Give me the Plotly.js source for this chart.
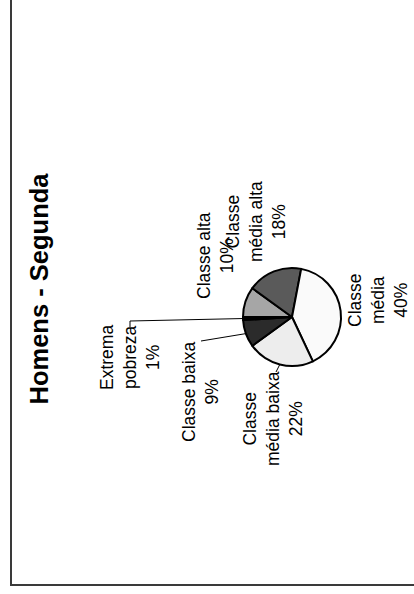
<!DOCTYPE html>
<html>
<head>
<meta charset="utf-8">
<script src="https://cdn.plot.ly/plotly-3.0.1.min.js"></script>
<style>
  html, body { margin: 0; padding: 0; background: #ffffff; overflow: hidden; }
  #wrap { position: absolute; left: 0; top: 0; width: 414px; height: 594px; overflow: hidden; }
  /* the chart is laid out landscape and turned a quarter turn counter-clockwise */
  #chart { position: absolute; left: 0; top: 0; width: 594px; height: 414px;
           transform-origin: 0 0; transform: translate(0px, 594px) rotate(-90deg); }
</style>
</head>
<body>
<div id="wrap"><div id="chart"></div></div>
<script>
// Distribution of men by social class (percent)
const categories = ['Classe alta', 'Classe média alta', 'Classe média', 'Classe média baixa', 'Classe baixa', 'Extrema pobreza'];
const shares = [10, 18, 40, 22, 9, 1];
const labelNames = ['Classe alta', 'Classe<br>média alta', 'Classe<br>média', 'Classe<br>média baixa', 'Classe baixa', 'Extrema<br>pobreza'];
const sliceColors = ['#a6a6a6', '#5a5a5a', '#fafafa', '#ededed', '#2b2b2b', '#000000'];
const chartTitle = 'Homens - Segunda';

// layout geometry, in pixels of the landscape canvas
const W = 594, H = 414;
const pieCx = 277, pieCy = 292, pieR = 49;
const labelPos = [[338, 215], [372, 256], [294, 378], [175, 273], [202, 201], [236, 130]];
const leaderPts = [null, null, null, [[222, 276]], [[253, 201]], [[273, 130], [267, 130]]];

const px = u => u / W;
const py = v => 1 - v / H;

const FONT = 'Liberation Sans, Arial, Helvetica, sans-serif';

// label annotations
const total = shares.reduce((a, b) => a + b, 0);
const annotations = categories.map((c, i) => ({
  xref: 'paper', yref: 'paper',
  x: px(labelPos[i][0]), y: py(labelPos[i][1]),
  xanchor: 'center', yanchor: 'middle',
  text: labelNames[i] + '<br>' + shares[i] + '%',
  showarrow: false, align: 'center',
  font: { family: FONT, size: 17.5, color: '#000000' }
}));

// leader lines: start at the rim in the middle of each slice (clockwise from 12 o'clock)
const shapes = [];
let acc = 0;
shares.forEach((s, i) => {
  const mid = (acc + s / 2) / total * 2 * Math.PI;
  acc += s;
  if (!leaderPts[i]) return;
  let prev = [pieCx + pieR * Math.sin(mid), pieCy - pieR * Math.cos(mid)];
  leaderPts[i].forEach(p => {
    shapes.push({ type: 'line', xref: 'paper', yref: 'paper',
      x0: px(prev[0]), y0: py(prev[1]), x1: px(p[0]), y1: py(p[1]),
      line: { color: '#000000', width: 1 } });
    prev = p;
  });
});

// outer frame
shapes.push({ type: 'rect', xref: 'paper', yref: 'paper',
  x0: px(9), y0: py(11), x1: px(W + 20), y1: py(H + 20),
  line: { color: '#3a3a3a', width: 2 }, fillcolor: 'rgba(0,0,0,0)' });

const trace = {
  type: 'pie',
  labels: categories,
  values: shares,
  sort: false,
  direction: 'clockwise',
  rotation: 0,
  textinfo: 'none',
  hoverinfo: 'none',
  marker: { colors: sliceColors, line: { color: '#000000', width: 2 } },
  domain: { x: [px(pieCx - pieR), px(pieCx + pieR)], y: [py(pieCy + pieR), py(pieCy - pieR)] },
  showlegend: false
};

const layout = {
  width: W, height: H,
  margin: { l: 0, r: 0, t: 0, b: 0 },
  paper_bgcolor: '#ffffff', plot_bgcolor: '#ffffff',
  showlegend: false,
  title: { text: '<b>' + chartTitle + '</b>', x: px(305), y: py(39), xanchor: 'center', yanchor: 'middle',
           font: { family: FONT, size: 25.5, color: '#000000' } },
  annotations: annotations,
  shapes: shapes
};

Plotly.newPlot('chart', [trace], layout, { staticPlot: true, displayModeBar: false });
</script>
</body>
</html>
